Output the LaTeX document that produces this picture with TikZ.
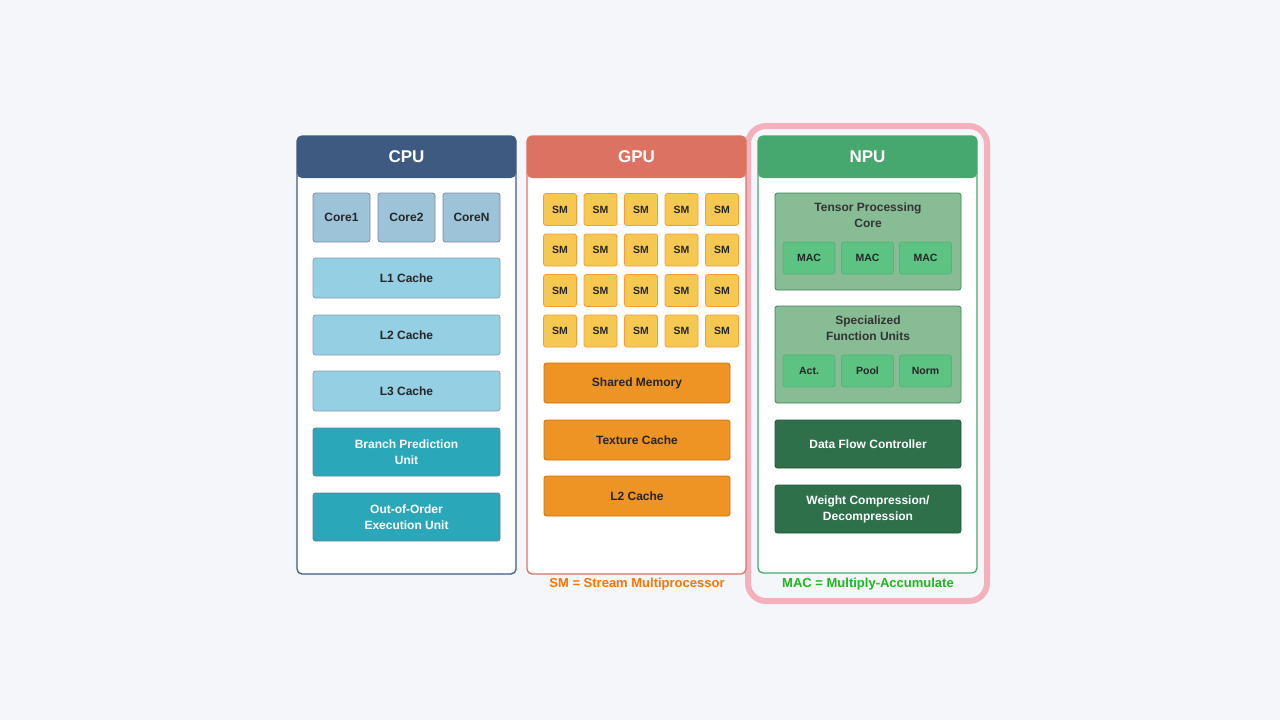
\documentclass[tikz,border=0pt]{standalone}
\usepackage{fontspec}
\setmainfont{Liberation Sans}
\usetikzlibrary{positioning}
\definecolor{bgc}{HTML}{F4F6FA}
\definecolor{cpuc}{HTML}{3F5A80}
\definecolor{gpuc}{HTML}{DC7262}
\definecolor{npuc}{HTML}{46A86E}
\definecolor{corec}{HTML}{9DC3D8}
\definecolor{cachec}{HTML}{94CFE3}
\definecolor{unitc}{HTML}{2AA8BA}
\definecolor{smc}{HTML}{F5C852}
\definecolor{gmemc}{HTML}{EE9424}
\definecolor{groupc}{HTML}{88BC94}
\definecolor{macc}{HTML}{5CC383}
\definecolor{ctrlc}{HTML}{2E7049}
\definecolor{hlc}{HTML}{F4B0BC}
\tikzset{x=1pt, y=-1pt,
panel/.style={draw=#1, line width=1.3pt, fill=white, rounded corners=5pt},
head/.style={fill=#1, rounded corners=5pt, minimum width=219pt, minimum height=42pt,
  text=white, font=\bfseries\fontsize{17}{20}\selectfont},
blk/.style={draw=#1, line width=0.8pt, rounded corners=2.5pt, align=center,
  font=\bfseries\fontsize{12}{16}\selectfont, text=black!85},
core/.style={blk=cpuc!70, fill=corec, minimum width=57pt, minimum height=49pt},
cache/.style={blk=cpuc!60, fill=cachec, minimum width=187pt, minimum height=40pt},
unit/.style={blk=cpuc!80, fill=unitc, text=white, minimum width=187pt, minimum height=48pt},
sm/.style={blk=orange!80, fill=smc, minimum width=33pt, minimum height=32pt, font=\bfseries\fontsize{10.5}{12}\selectfont},
gmem/.style={blk=orange!85!black, fill=gmemc, minimum width=186pt, minimum height=40pt},
group/.style={blk=npuc!80!black, fill=groupc, minimum width=186pt, minimum height=97pt},
mac/.style={blk=npuc!90, fill=macc, minimum width=52pt, minimum height=32pt, font=\bfseries\fontsize{10.5}{12}\selectfont},
ctrl/.style={blk=npuc!50!black, fill=ctrlc, text=white, minimum width=186pt, minimum height=48pt}}
\begin{document}
\begin{tikzpicture}
\fill[bgc] (0,0) rectangle (1280,720);
\useasboundingbox (0,0) rectangle (1280,720);
% highlight round the NPU
\draw[draw=hlc, line width=6pt, rounded corners=18pt] (748,126) rectangle (987,601);

% CPU
\draw[panel=cpuc] (297,136) rectangle (516,574);
\node[head=cpuc] (cpu) at (406.5,157) {CPU};
\node[core] (core1) at (341.5,217.5) {Core1};
\node[core] (core2) at (406.5,217.5) {Core2};
\node[core] (coreN) at (471.5,217.5) {CoreN};
\node[cache] (l1) at (406.5,278) {L1 Cache};
\node[cache] (l2) at (406.5,335) {L2 Cache};
\node[cache] (l3) at (406.5,391) {L3 Cache};
\node[unit] (bpu) at (406.5,452) {Branch Prediction\\Unit};
\node[unit] (ooo) at (406.5,517) {Out-of-Order\\Execution Unit};

% GPU
\draw[panel=gpuc] (527,136) rectangle (746,574);
\node[head=gpuc] (gpu) at (636.5,157) {GPU};
\foreach \r/\y in {1/209.5,2/250,3/290.5,4/331}
  \foreach \c/\x in {1/560,2/600.5,3/641,4/681.5,5/722}
    \node[sm] (sm\r\c) at (\x,\y) {SM};
\node[gmem] (shm) at (637,383) {Shared Memory};
\node[gmem] (tex) at (637,440) {Texture Cache};
\node[gmem] (gl2) at (637,496) {L2 Cache};
\node[text=orange!90!red, font=\bfseries\fontsize{13}{15}\selectfont] (smnote) at (637,584) {SM = Stream Multiprocessor};

% NPU
\draw[panel=npuc] (758,136) rectangle (977,573);
\node[head=npuc] (npu) at (867.5,157) {NPU};
\node[group] (tpc) at (868,241.5) {};
\node[below=7pt of tpc.north, align=center, font=\bfseries\fontsize{12}{16}\selectfont, text=black!80] (tpct) {Tensor Processing\\Core};
\node[group] (sfu) at (868,354.5) {};
\node[below=7pt of sfu.north, align=center, font=\bfseries\fontsize{12}{16}\selectfont, text=black!80] (sfut) {Specialized\\Function Units};
\foreach \n/\x/\t in {1/809/MAC,2/867.5/MAC,3/925.5/MAC}
  \node[mac] (mac\n) at (\x,258) {\t};
\foreach \n/\x/\t in {1/809/Act.,2/867.5/Pool,3/925.5/Norm}
  \node[mac] (fu\n) at (\x,371) {\t};
\node[ctrl] (dfc) at (868,444) {Data Flow Controller};
\node[ctrl] (wcd) at (868,509) {Weight Compression/\\Decompression};
\node[text=green!70!black!90, font=\bfseries\fontsize{13}{15}\selectfont] (macnote) at (868,584) {MAC = Multiply-Accumulate};
\end{tikzpicture}
\end{document}
